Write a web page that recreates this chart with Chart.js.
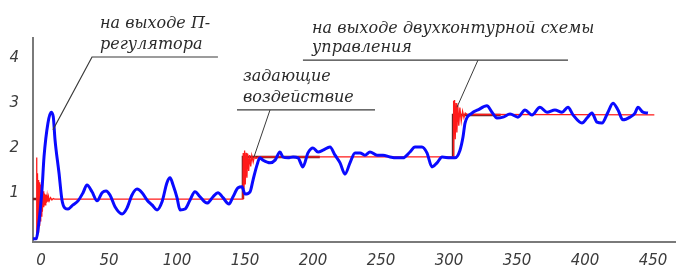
<!DOCTYPE html>
<html>
<head>
<meta charset="utf-8">
<script src="https://cdn.jsdelivr.net/npm/chart.js@4.4.1/dist/chart.umd.min.js"></script>
<style>
    html, body { margin: 0; padding: 0; background: #fff; }
</style>
</head>
<body>
<canvas id="chart" width="699" height="280"></canvas>
<script>
const xTickLabels = [0, 50, 100, 150, 200, 250, 300, 350, 400, 450];
const yTickLabels = [1, 2, 3, 4];

// blue: output of the two-loop scheme, [t, value]
const outputSeries = [
    [-5.9, 0], [-3.5, 0], [-2.2, 0.2], [0.7, 1.08], [2.2, 1.81], [5.1, 2.56], [7.4, 2.80], [9.0, 2.70],
    [10.3, 2.19], [13.2, 1.46], [15.4, 0.86], [17.6, 0.68], [19.9, 0.66], [23.5, 0.75], [27.2, 0.84],
    [30.9, 1.02], [33.8, 1.19], [37.5, 1.04], [41.2, 0.84], [44.9, 1.02], [47.8, 1.06], [50.7, 0.97],
    [54.4, 0.71], [59.6, 0.55], [63.2, 0.68], [66.9, 0.97], [70.6, 1.10], [74.3, 1.02], [77.9, 0.86],
    [81.6, 0.75], [85.3, 0.64], [89.0, 0.82], [92.6, 1.24], [94.9, 1.35], [97.1, 1.19], [100.0, 0.91],
    [102.2, 0.64], [105.9, 0.66], [109.6, 0.86], [113.2, 1.04], [116.9, 0.93], [122.1, 0.79], [126.5, 0.93],
    [130.1, 1.02], [133.8, 0.91], [138.2, 0.77], [141.2, 0.93], [144.9, 1.13], [147.8, 1.15], [150.0, 0.99],
    [153.7, 1.04], [155.9, 1.30], [158.8, 1.63], [161.0, 1.79], [163.2, 1.74], [168.4, 1.68], [172.1, 1.74],
    [175.7, 1.92], [177.9, 1.81], [181.6, 1.79], [185.3, 1.81], [189.0, 1.79], [192.6, 1.59], [196.3, 1.90],
    [200.0, 2.01], [203.7, 1.92], [207.4, 1.96], [212.5, 2.03], [216.2, 1.85], [219.9, 1.68], [223.5, 1.43],
    [227.2, 1.68], [230.9, 1.90], [234.6, 1.90], [238.2, 1.85], [241.9, 1.92], [247.1, 1.85], [251.5, 1.85],
    [256.6, 1.81], [261.8, 1.79], [266.2, 1.79], [271.3, 1.92], [275.0, 2.03], [280.1, 2.03], [283.8, 1.90],
    [287.5, 1.59], [291.2, 1.68], [294.9, 1.81], [300.7, 1.79], [304.4, 1.79], [308.1, 1.96], [310.3, 2.25],
    [311.8, 2.56], [316.9, 2.78], [321.3, 2.85], [327.9, 2.94], [331.6, 2.80], [335.3, 2.67], [339.7, 2.69],
    [344.9, 2.76], [350.7, 2.69], [355.9, 2.85], [361.0, 2.74], [366.9, 2.91], [372.1, 2.80], [377.9, 2.85],
    [383.1, 2.80], [387.5, 2.91], [391.2, 2.74], [397.8, 2.56], [401.5, 2.67], [405.1, 2.78], [408.8, 2.58],
    [412.5, 2.56], [416.9, 2.80], [420.6, 3.00], [424.3, 2.85], [427.9, 2.63], [433.1, 2.69], [436.8, 2.78],
    [439.0, 2.91], [442.6, 2.80], [446.3, 2.78]
];

// red: setpoint with the P-regulator spikes at each step
const setpointSeries = [
    [-5.9, 0], [-3.6, 0], [-3.3, 1.8], [-3.0, 0.1], [-2.6, 1.45], [-2.2, 0.15], [-1.8, 1.3], [-1.4, 0.3],
    [-1.0, 1.25], [-0.6, 0.4], [-0.2, 1.2], [0.2, 0.5], [0.6, 1.1], [1.0, 0.6], [1.5, 1.05], [2.0, 0.7],
    [2.5, 1.0], [3.0, 0.75], [3.5, 0.98], [4.0, 0.8], [4.5, 0.95], [5.0, 0.82], [5.5, 0.93], [6.0, 0.84],
    [7.0, 0.91], [8.0, 0.86], [9.0, 0.89], [10.0, 0.88], [148.5, 0.88],
    [148.7, 1.9], [149.2, 1.1], [149.7, 1.95], [150.2, 1.2], [150.8, 1.9], [151.4, 1.35], [152.0, 1.88],
    [152.7, 1.5], [153.4, 1.85], [154.2, 1.6], [155.0, 1.84], [156.0, 1.7], [157.0, 1.83], [158.0, 1.78],
    [160.0, 1.81], [303.0, 1.81],
    [303.2, 3.05], [303.6, 2.1], [304.1, 3.07], [304.6, 2.2], [305.2, 3.0], [305.8, 2.35], [306.5, 2.95],
    [307.2, 2.5], [308.0, 2.9], [309.0, 2.6], [310.0, 2.82], [311.0, 2.68], [312.0, 2.78], [314.0, 2.73],
    [316.0, 2.75], [451.0, 2.74]
];

// dark step line, partly hidden under the red one
const stepSeries = [
    [-5.9, 0.88], [2.0, 0.88], [2.1, null],
    [148.5, 0.88], [148.5, 1.81], [205.0, 1.81], [205.1, null],
    [303.0, 1.81], [303.0, 2.74], [338.0, 2.74]
];

const notes = [
    { lines: ['на выходе П-', 'регулятора'], at: [43.4, 4.66], gap: 0.47,
      leader: [[130.1, 4.02], [37.5, 4.02], [8.8, 2.41]] },
    { lines: ['задающие', 'воздействие'], at: [148.5, 3.49], gap: 0.46,
      leader: [[245.6, 2.85], [144.1, 2.85]], pointer: [[168.4, 2.85], [156.6, 1.81]] },
    { lines: ['на выходе двухконтурной схемы', 'управления'], at: [199.3, 4.55], gap: 0.42,
      leader: [[192.6, 3.95], [387.5, 3.95]], pointer: [[321.3, 3.95], [305.9, 2.91]] }
];

const toPoints = arr => arr.map(p => ({ x: p[0], y: p[1] }));

const notesPlugin = {
    id: 'notes',
    afterDraw(chart) {
        const ctx = chart.ctx;
        const xs = chart.scales.x, ys = chart.scales.y;
        const px = v => xs.getPixelForValue(v), py = v => ys.getPixelForValue(v);
        ctx.save();
        notes.forEach(n => {
            ctx.strokeStyle = '#3a3a3a';
            ctx.lineWidth = 1.2;
            ctx.beginPath();
            n.leader.forEach((p, i) => i ? ctx.lineTo(px(p[0]), py(p[1])) : ctx.moveTo(px(p[0]), py(p[1])));
            ctx.stroke();
            if (n.pointer) {
                ctx.lineWidth = 1;
                ctx.beginPath();
                ctx.moveTo(px(n.pointer[0][0]), py(n.pointer[0][1]));
                ctx.lineTo(px(n.pointer[1][0]), py(n.pointer[1][1]));
                ctx.stroke();
            }
            ctx.fillStyle = '#2a2a2a';
            ctx.font = 'italic 16px "DejaVu Serif"';
            ctx.textBaseline = 'alphabetic';
            n.lines.forEach((t, i) => ctx.fillText(t, px(n.at[0]), py(n.at[1] - i * n.gap)));
        });
        ctx.restore();
    }
};

const tickFont = { family: 'DejaVu Sans', style: 'italic', size: 15 };

new Chart(document.getElementById('chart'), {
    type: 'line',
    data: {
        datasets: [
            { label: 'output', data: toPoints(outputSeries), borderColor: '#0a0aff', borderWidth: 3,
              pointRadius: 0, cubicInterpolationMode: 'monotone' },
            { label: 'setpoint', data: toPoints(setpointSeries), borderColor: '#ff1a1a', borderWidth: 1.3,
              pointRadius: 0, tension: 0 },
            { label: 'step', data: toPoints(stepSeries), borderColor: '#6a2424', borderWidth: 2.5,
              pointRadius: 0, tension: 0, spanGaps: false }
        ]
    },
    options: {
        responsive: false,
        animation: false,
        layout: { padding: { top: 38, right: 24, left: 0, bottom: 0 } },
        plugins: { legend: { display: false }, tooltip: { enabled: false } },
        scales: {
            x: {
                type: 'linear', min: -5.9, max: 466.2,
                grid: { display: false },
                border: { display: true, color: '#7a7a7a', width: 2 },
                afterBuildTicks: s => { s.ticks = xTickLabels.map(v => ({ value: v })); },
                afterFit: s => { s.height = 38; },
                ticks: { font: tickFont, color: '#3c3c3c', padding: 2, maxRotation: 0 }
            },
            y: {
                min: -0.07, max: 4.44,
                grid: { display: false },
                border: { display: true, color: '#7a7a7a', width: 2 },
                afterBuildTicks: s => { s.ticks = yTickLabels.map(v => ({ value: v })); },
                afterFit: s => { s.width = 33; },
                ticks: { font: tickFont, color: '#3c3c3c', padding: 6 }
            }
        }
    },
    plugins: [notesPlugin]
});
</script>
</body>
</html>
